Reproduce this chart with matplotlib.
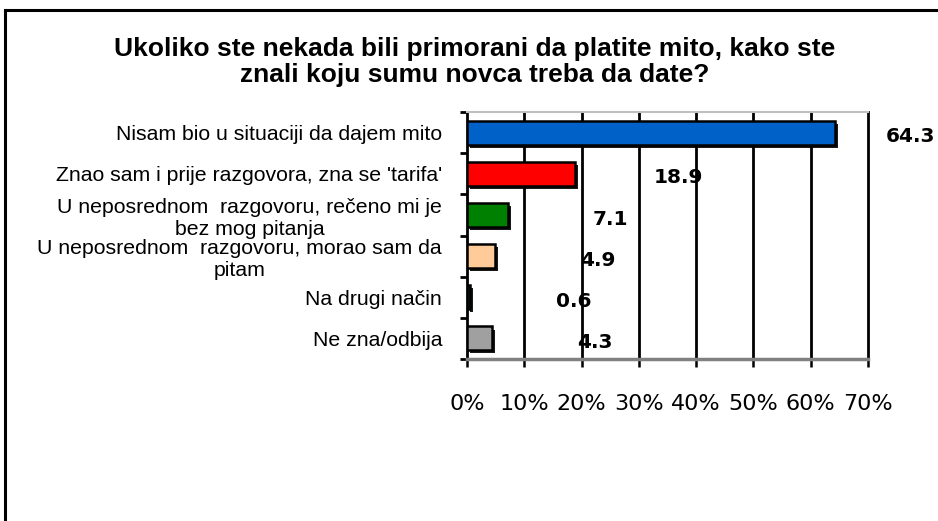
import numpy as np
import matplotlib.pyplot as plt
import matplotlib.patheffects as pe
from matplotlib.lines import Line2D

# data
categories = ["Nisam bio u situaciji da dajem mito",
              "Znao sam i prije razgovora, zna se 'tarifa'",
              "U neposrednom  razgovoru, rečeno mi je\nbez mog pitanja",
              "U neposrednom  razgovoru, morao sam da\npitam",
              "Na drugi način",
              "Ne zna/odbija"]
values = [64.3, 18.9, 7.1, 4.9, 0.6, 4.3]
colors = ['#0062C8', '#FF0000', '#008000', '#FFCC99', '#003333', '#A0A0A0']
xticks = [0, 10, 20, 30, 40, 50, 60, 70]
title = "Ukoliko ste nekada bili primorani da platite mito, kako ste\nznali koju sumu novca treba da date?"


def main():
    W, H = 938, 521
    fig = plt.figure(figsize=(W / 100, H / 100), dpi=100)
    ax = fig.add_axes([467 / W, 1 - 359 / H, (868 - 467) / W, (359 - 112) / H])

    y = np.arange(len(categories))
    shadow = [pe.SimplePatchShadow(offset=(2.2, -2.2), shadow_rgbFace='black', alpha=0.9), pe.Normal()]
    bars = ax.barh(y, values, height=0.58, color=colors, edgecolor='black', linewidth=1.8, zorder=3)
    for b in bars:
        b.set_path_effects(shadow)

    ax.set_xlim(0, 70)
    ax.set_ylim(len(categories) - 0.5, -0.5)

    # grid
    for t in xticks[1:-1]:
        ax.axvline(t, color='black', lw=2.0, zorder=1)

    # spines
    ax.spines['top'].set_color('#c0c0c0')
    ax.spines['top'].set_linewidth(1.5)
    ax.spines['right'].set_color('black')
    ax.spines['right'].set_linewidth(2.0)
    ax.spines['bottom'].set_color('#808080')
    ax.spines['bottom'].set_linewidth(2.5)
    ax.spines['left'].set_color('black')
    ax.spines['left'].set_linewidth(2.0)

    # y axis: labels at centres, ticks between categories
    ax.set_yticks(y)
    ax.set_yticklabels(categories, fontfamily='Liberation Sans', fontsize=15.3,
                       multialignment='center', linespacing=1.22)
    ax.tick_params(axis='y', which='major', length=0, pad=18)
    ax.set_yticks(np.arange(-0.5, len(categories)), minor=True)
    ax.tick_params(axis='y', which='minor', length=5, width=2, color='black', direction='out')

    ax.set_xticks(xticks)
    ax.set_xticklabels([f"{t}%" for t in xticks], fontfamily='DejaVu Sans', fontsize=16)
    ax.tick_params(axis='x', length=6, width=1.8, color='black', direction='out', pad=19)

    # value labels
    for i, v in enumerate(values):
        lx = min(v + 18, 77.5)
        ax.annotate(f"{v:.1f}", (lx, i), xytext=(0, -3), textcoords='offset points',
                    ha='center', va='center', fontsize=14.5, fontweight='bold',
                    fontfamily='DejaVu Sans', annotation_clip=False, zorder=4)

    fig.text(475 / W, 1 - 62 / H, title, ha='center', va='center', fontsize=19,
             fontweight='bold', fontfamily='Liberation Sans', linespacing=1.1)

    # border of the chart area (top and left visible)
    fig.add_artist(Line2D([5 / W, 1], [1 - 10 / H, 1 - 10 / H], color='black', lw=2.2,
                          transform=fig.transFigure))
    fig.add_artist(Line2D([5 / W, 5 / W], [0, 1 - 10 / H], color='black', lw=2.2,
                          transform=fig.transFigure))

    fig.savefig('out.png', dpi=100)


if __name__ == "__main__":
    main()
